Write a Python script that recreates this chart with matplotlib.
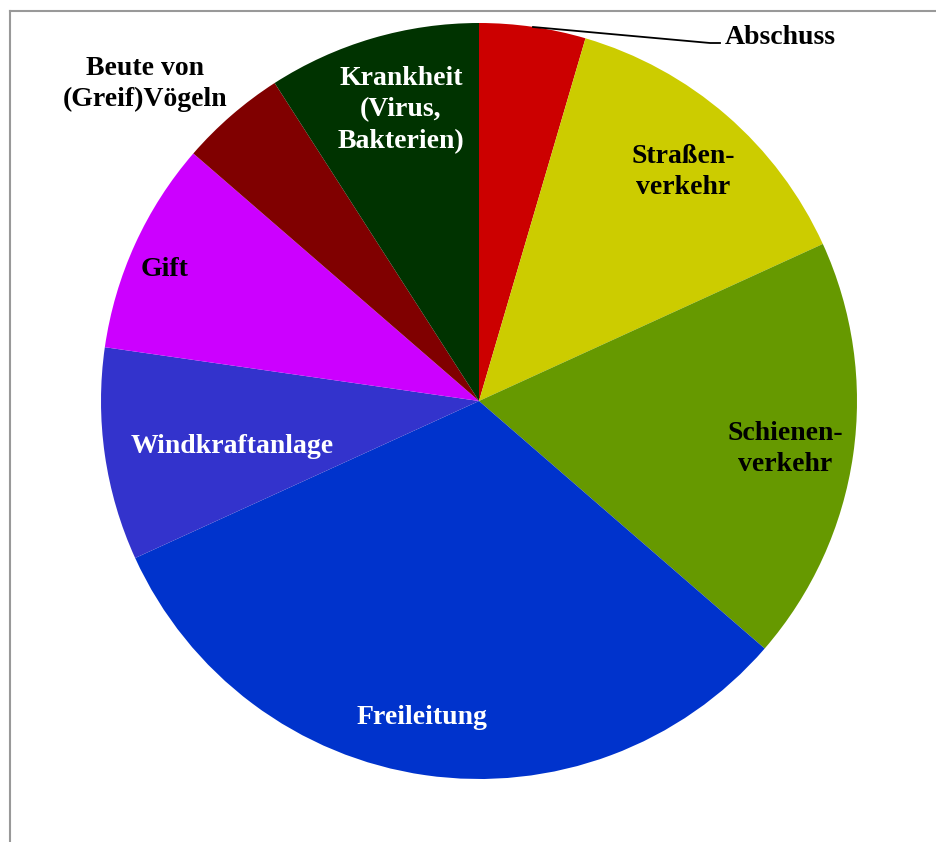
import matplotlib.pyplot as plt
from matplotlib.lines import Line2D

# Causes of death (number of cases)
categories = ["Abschuss", "Straßen-\nverkehr", "Schienen-\nverkehr", "Freileitung",
              "Windkraftanlage", "Gift", "Beute von\n(Greif)Vögeln",
              "Krankheit\n(Virus,\nBakterien)"]
values = [1, 3, 4, 7, 2, 2, 1, 2]
colors = ["#CC0000", "#CCCC00", "#669900", "#0033CC", "#3333CC", "#CC00FF",
          "#800000", "#003300"]
label_colors = ["black", "black", "black", "white", "white", "black", "black", "white"]
# label anchor positions in pixel space (x, y from top)
label_pos = [(780, 38), (683, 172), (785, 449), (422, 717), (232, 447), (165, 269),
             (145, 84), (401, 110)]

W, H = 937, 842
fig = plt.figure(figsize=(W / 100, H / 100), dpi=100)
ax = fig.add_axes([0, 0, 1, 1])

cx, cy, r = 479, H - 401, 378
ax.pie(values, colors=colors, startangle=90, counterclock=False,
       center=(cx, cy), radius=r, frame=True,
       wedgeprops=dict(linewidth=0))
ax.set_xlim(0, W)
ax.set_ylim(0, H)
ax.set_aspect("equal")
ax.axis("off")

font = dict(family="Liberation Serif", weight="bold", size=20)
for lab, col, (x, y) in zip(categories, label_colors, label_pos):
    ax.text(x, H - y, lab, color=col, ha="center", va="center",
            linespacing=1.34, **font)

# leader line for the small slice
ax.add_line(Line2D([533, 710, 720], [H - 27, H - 43, H - 43], color="black", lw=1.3))

# frame edges
ax.add_line(Line2D([10.5, 10.5], [0, H - 10.5], color="#999999", lw=1.5))
ax.add_line(Line2D([10.5, W], [H - 10.5, H - 10.5], color="#999999", lw=1.5))

fig.savefig("out.png", dpi=100)
